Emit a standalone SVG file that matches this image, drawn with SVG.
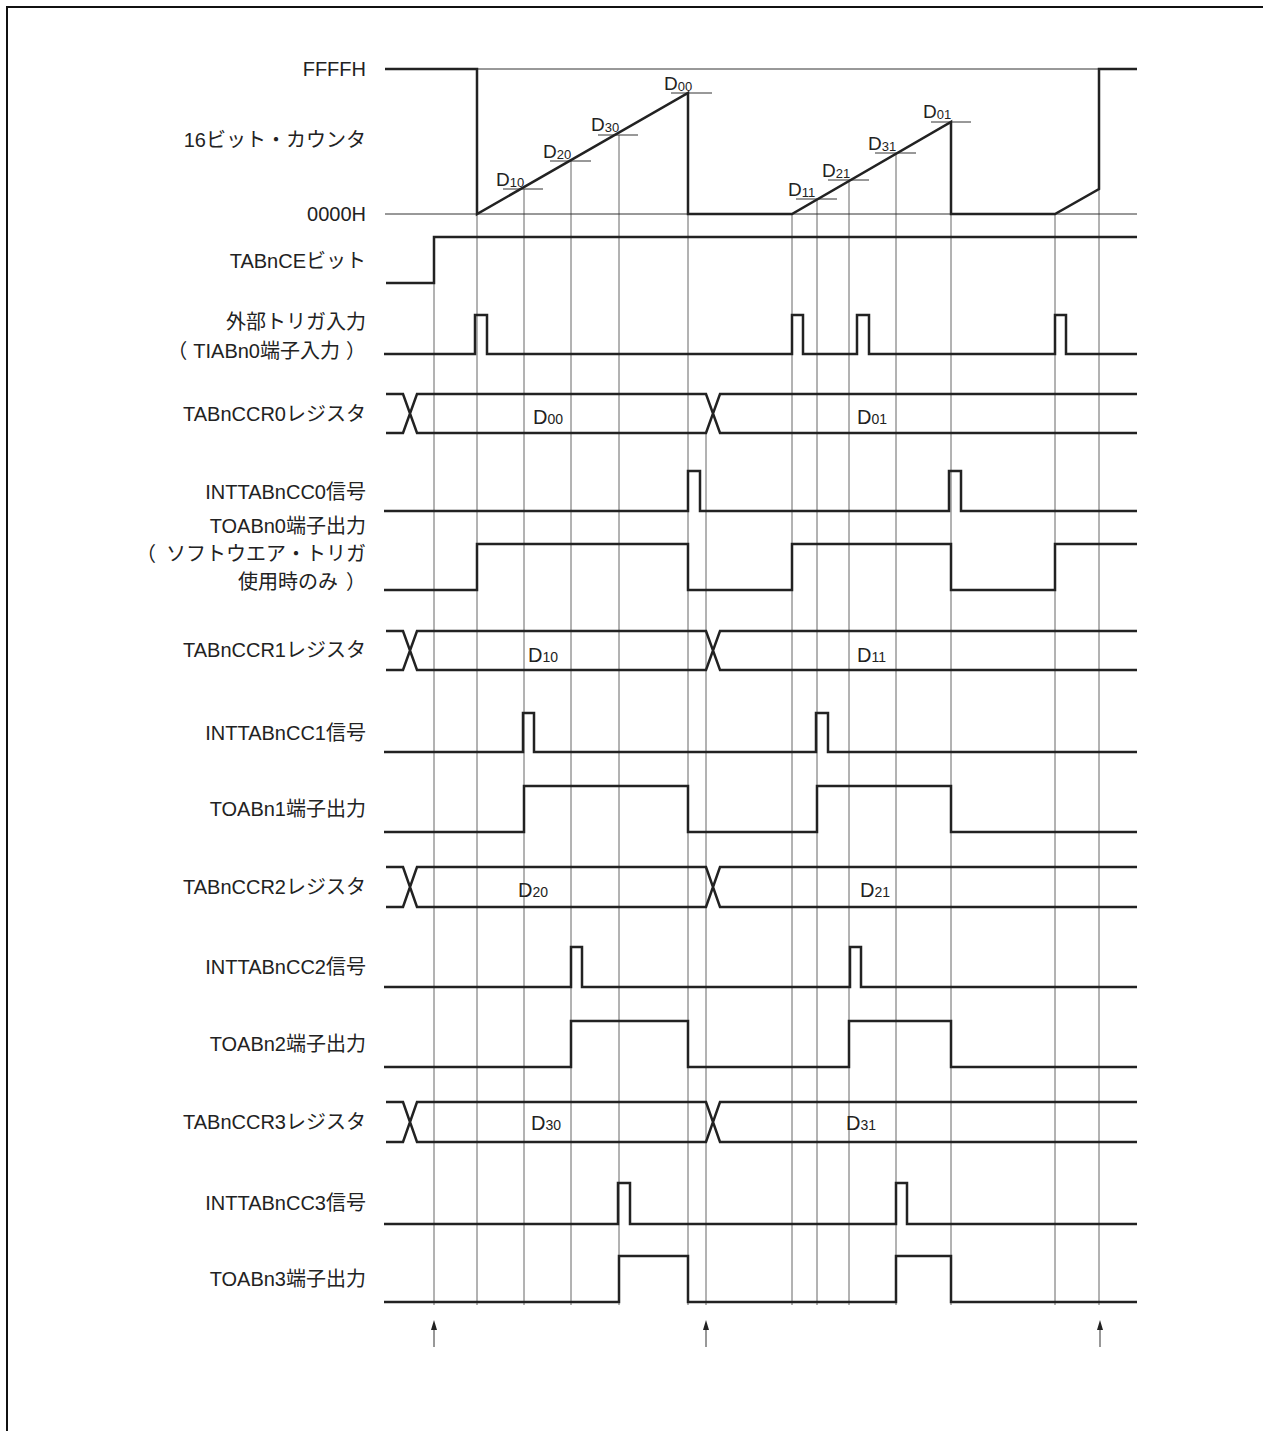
<svg xmlns="http://www.w3.org/2000/svg" width="1263" height="1431" viewBox="0 0 1263 1431">
<style>
.lbl{font-family:"Liberation Sans","Noto Sans CJK JP",sans-serif;font-size:20px;fill:#222;text-anchor:end}
.d{font-family:"Liberation Sans",sans-serif;font-size:19px;fill:#222}
.sub{font-size:13px}
.rd{font-family:"Liberation Sans",sans-serif;font-size:20px;fill:#222}
.rsub{font-size:14px}
.wave{fill:none;stroke:#222;stroke-width:2.5;stroke-linejoin:miter}
.thin{fill:none;stroke:#333;stroke-width:1}
.grid{fill:none;stroke:#666;stroke-width:1}
.frame{fill:none;stroke:#111;stroke-width:2}
.ah{fill:#222;stroke:none}
</style>
<rect width="1263" height="1431" fill="#fff"/>
<path class="frame" d="M7,1431 V7 H1263"/>

<g id="labels">
<text class="lbl" x="366" y="76">FFFFH</text>
<text class="lbl" x="366" y="147">16ビット・カウンタ</text>
<text class="lbl" x="366" y="221">0000H</text>
<text class="lbl" x="366" y="268">TABnCEビット</text>
<text class="lbl" x="366" y="329">外部トリガ入力</text>
<text class="lbl" x="366" y="358">（<tspan dx="6">TIABn0端子入力</tspan><tspan dx="6">）</tspan></text>
<text class="lbl" x="366" y="421">TABnCCR0レジスタ</text>
<text class="lbl" x="366" y="499">INTTABnCC0信号</text>
<text class="lbl" x="366" y="533">TOABn0端子出力</text>
<text class="lbl" x="366" y="561">（<tspan dx="10">ソフトウエア・トリガ</tspan></text>
<text class="lbl" x="366" y="589">使用時のみ<tspan dx="8">）</tspan></text>
<text class="lbl" x="366" y="657">TABnCCR1レジスタ</text>
<text class="lbl" x="366" y="740">INTTABnCC1信号</text>
<text class="lbl" x="366" y="816">TOABn1端子出力</text>
<text class="lbl" x="366" y="894">TABnCCR2レジスタ</text>
<text class="lbl" x="366" y="974">INTTABnCC2信号</text>
<text class="lbl" x="366" y="1051">TOABn2端子出力</text>
<text class="lbl" x="366" y="1129">TABnCCR3レジスタ</text>
<text class="lbl" x="366" y="1210">INTTABnCC3信号</text>
<text class="lbl" x="366" y="1286">TOABn3端子出力</text>
</g>

<g id="grid">
<path class="grid" d="M434,237 V1305 M477,214 V1305 M524,189 V1305 M571,161 V1305 M619,135 V1305 M688,93 V1305 M706,433 V1305 M792,214 V1305 M817,199 V1305 M849,180 V1305 M896,153 V1305 M951,122 V1305 M1055,214 V1305 M1099,189 V1305"/>
</g>

<g id="counter">
<path class="thin" d="M477,69 H1137 M385,214 H1137"/>
<path class="thin" d="M503,189 H543 M550,161 H591 M598,135 H638 M671,93 H712 M796,199 H837 M828,180 H869 M875,153 H916 M931,122 H971"/>
<path class="wave" d="M385,69 H477 V214 L688,93 V214 H792 L951,122 V214 H1055 L1099,189 V69 H1137"/>
<text class="d" x="496" y="186">D<tspan class="sub" dy="1">10</tspan></text>
<text class="d" x="543" y="158">D<tspan class="sub" dy="1">20</tspan></text>
<text class="d" x="591" y="131">D<tspan class="sub" dy="1">30</tspan></text>
<text class="d" x="664" y="90">D<tspan class="sub" dy="1">00</tspan></text>
<text class="d" x="788" y="196">D<tspan class="sub" dy="1">11</tspan></text>
<text class="d" x="822" y="177">D<tspan class="sub" dy="1">21</tspan></text>
<text class="d" x="868" y="150">D<tspan class="sub" dy="1">31</tspan></text>
<text class="d" x="923" y="118">D<tspan class="sub" dy="1">01</tspan></text>
</g>

<g id="tabnce"><path class="wave" d="M386,283 H434 V237 H1137"/></g>
<g id="trigger"><path class="wave" d="M384,354 H475 V315 H487 V354 H792 V315 H803 V354 H857 V315 H869 V354 H1055 V315 H1066 V354 H1137"/></g>

<g id="ccr0">
<path class="wave" d="M386,394 H403 L417,433 H706 L720,394 H1137 M386,433 H403 L417,394 H706 L720,433 H1137"/>
<text class="rd" x="533" y="424">D<tspan class="rsub">00</tspan></text>
<text class="rd" x="857" y="424">D<tspan class="rsub">01</tspan></text>
</g>
<g id="intcc0"><path class="wave" d="M384,511 H688 V471 H700 V511 H949 V471 H961 V511 H1137"/></g>
<g id="toab0"><path class="wave" d="M384,590 H477 V544 H688 V590 H792 V544 H951 V590 H1055 V544 H1137"/></g>

<g id="ccr1">
<path class="wave" d="M386,631 H403 L417,670 H706 L720,631 H1137 M386,670 H403 L417,631 H706 L720,670 H1137"/>
<text class="rd" x="528" y="662">D<tspan class="rsub">10</tspan></text>
<text class="rd" x="857" y="662">D<tspan class="rsub">11</tspan></text>
</g>
<g id="intcc1"><path class="wave" d="M384,752 H523 V713 H534 V752 H816 V713 H828 V752 H1137"/></g>
<g id="toab1"><path class="wave" d="M384,832 H524 V786 H688 V832 H817 V786 H951 V832 H1137"/></g>

<g id="ccr2">
<path class="wave" d="M386,867 H403 L417,907 H706 L720,867 H1137 M386,907 H403 L417,867 H706 L720,907 H1137"/>
<text class="rd" x="518" y="897">D<tspan class="rsub">20</tspan></text>
<text class="rd" x="860" y="897">D<tspan class="rsub">21</tspan></text>
</g>
<g id="intcc2"><path class="wave" d="M384,987 H571 V947 H582 V987 H850 V947 H861 V987 H1137"/></g>
<g id="toab2"><path class="wave" d="M384,1067 H571 V1021 H688 V1067 H849 V1021 H951 V1067 H1137"/></g>

<g id="ccr3">
<path class="wave" d="M386,1102 H403 L417,1142 H706 L720,1102 H1137 M386,1142 H403 L417,1102 H706 L720,1142 H1137"/>
<text class="rd" x="531" y="1130">D<tspan class="rsub">30</tspan></text>
<text class="rd" x="846" y="1130">D<tspan class="rsub">31</tspan></text>
</g>
<g id="intcc3"><path class="wave" d="M384,1224 H618 V1183 H630 V1224 H896 V1183 H907 V1224 H1137"/></g>
<g id="toab3"><path class="wave" d="M384,1302 H619 V1256 H688 V1302 H896 V1256 H951 V1302 H1137"/></g>

<g id="arrows">
<path class="thin" d="M434,1347 V1328 M706,1347 V1328 M1100,1347 V1328"/>
<path class="ah" d="M434,1320 L431,1330 H437 Z M706,1320 L703,1330 H709 Z M1100,1320 L1097,1330 H1103 Z"/>
</g>
</svg>
